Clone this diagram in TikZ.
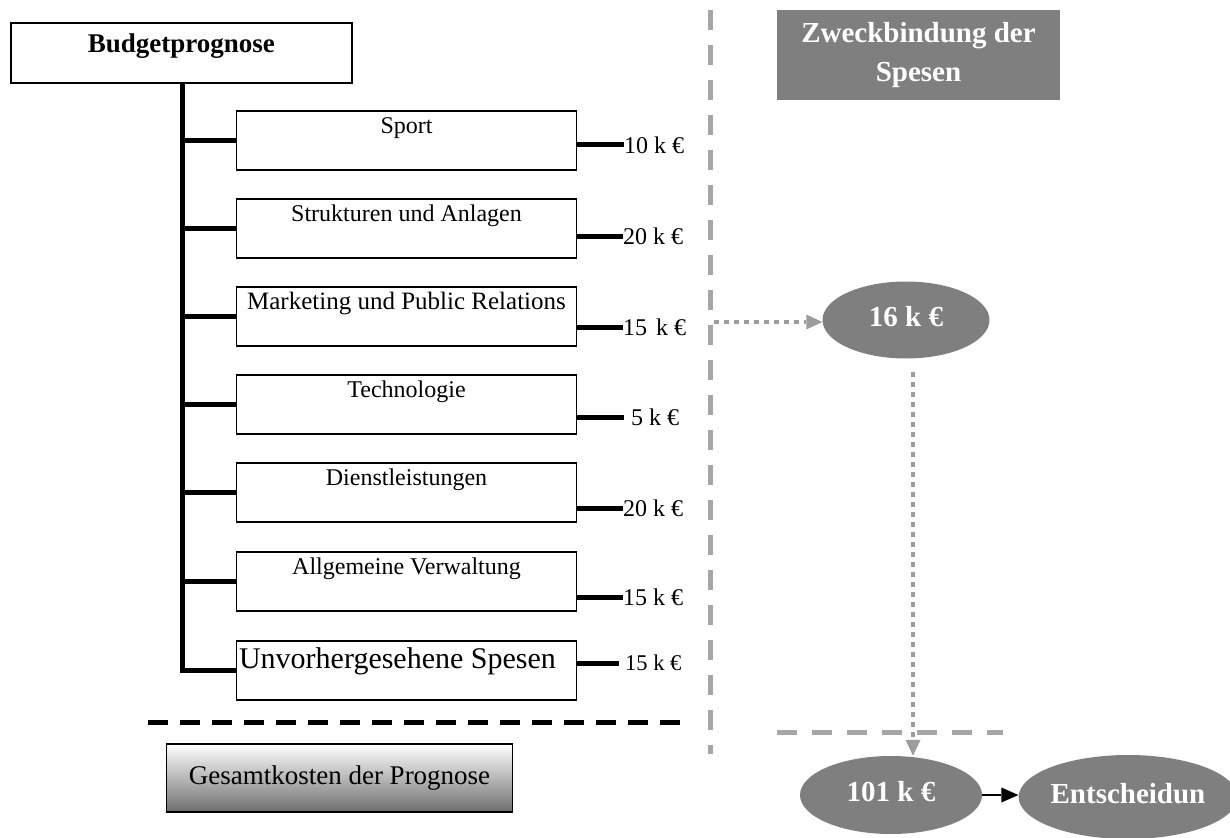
\documentclass[tikz,border=0pt]{standalone}
\usepackage{fontspec}
\setmainfont{Liberation Serif}
\usetikzlibrary{arrows.meta,shapes.geometric}
\definecolor{boxgray}{HTML}{7F7F7F}
\definecolor{linegray}{HTML}{A6A6A6}
\definecolor{dotgray}{HTML}{9C9C9C}
\definecolor{shadegray}{HTML}{6E6E6E}

\begin{document}
\begin{tikzpicture}[x=1pt,y=-1pt,
  itembox/.style={draw, line width=1.4pt, minimum width=340pt, minimum height=59pt,
    inner sep=0pt, outer sep=0pt, anchor=north west},
  itemtext/.style={font=\fontsize{24}{28}\selectfont, anchor=base, inner sep=0pt},
  amount/.style={font=\fontsize{24}{28}\selectfont, anchor=west, inner sep=0pt},
  thickline/.style={line width=5pt},
  gdash/.style={draw=linegray, line width=5pt, dash pattern=on 20pt off 15pt},
  kdash/.style={draw=black, line width=5pt, dash pattern=on 20pt off 12pt},
  gdot/.style={draw=dotgray, line width=4.5pt, dash pattern=on 4.5pt off 5.5pt,
    -{Triangle[length=16pt,width=15pt,line width=0pt]}},
  blob/.style={ellipse, fill=boxgray, text=white, inner sep=0pt,
    font=\bfseries\fontsize{29}{34}\selectfont, text height=20pt, text depth=8pt},
]
\useasboundingbox (0,0) rectangle (1230,837);
\clip (0,0) rectangle (1230,837);

% ---- head box
\node[draw, line width=1.6pt, minimum width=341pt, minimum height=60pt, inner sep=0pt,
  anchor=north west] (bud) at (10,22) {};
\node[font=\bfseries\fontsize{27}{32}\selectfont, anchor=base, inner sep=0pt,
  yshift=-30.5pt] (budt) at (bud.north) {Budgetprognose};

% ---- cost items
\node[itembox] (b1) at (236.5,111) {};
\node[itembox] (b2) at (236.5,199) {};
\node[itembox] (b3) at (236.5,287) {};
\node[itembox] (b4) at (236.5,375) {};
\node[itembox] (b5) at (236.5,463) {};
\node[itembox] (b6) at (236.5,552) {};
\node[itembox] (b7) at (236.5,641) {};

\node[itemtext, yshift=-23pt] (t1) at (b1.north) {Sport};
\node[itemtext, yshift=-22pt] (t2) at (b2.north) {Strukturen und Anlagen};
\node[itemtext, font=\fontsize{25}{29}\selectfont, yshift=-22.5pt] (t3) at (b3.north)
  {Marketing und Public Relations};
\node[itemtext, yshift=-22pt] (t4) at (b4.north) {Technologie};
\node[itemtext, yshift=-22pt] (t5) at (b5.north) {Dienstleistungen};
\node[itemtext, yshift=-22pt] (t6) at (b6.north) {Allgemeine Verwaltung};
\node[itemtext, font=\fontsize{30}{34}\selectfont, yshift=-27pt, xshift=-9pt] (t7)
  at (b7.north) {Unvorhergesehene Spesen};

% ---- trunk and branches
\coordinate (tt) at (182,82);
\draw[thickline, line join=miter] (tt) -- (tt |- b7.west) -- (b7.west);
\foreach \b in {b1,b2,b3,b4,b5,b6}
  \draw[thickline] (tt |- \b.west) -- (\b.west);

% ---- amounts
\node[amount] (v1) at (624,145) {10 k €};
\node[amount] (v2) at (623,236) {20 k €};
\node[amount] (v3) at (623,327) {15\kern3pt\ k €};
\node[amount] (v4) at (631,417) {5 k €};
\node[amount] (v5) at (623,508) {20 k €};
\node[amount] (v6) at (623,597) {15 k €};
\node[amount, font=\fontsize{22.5}{26}\selectfont] (v7) at (625,663) {15 k €};

\draw[thickline] (b1.east |- v1.west) -- (v1.west);
\draw[thickline] (b2.east |- v2.west) -- (v2.west);
\draw[thickline] (b3.east |- v3.west) -- (v3.west);
\draw[thickline] (b4.east |- v4.west) -- ++(47,0);
\draw[thickline] (b5.east |- v5.west) -- (v5.west);
\draw[thickline] (b6.east |- v6.west) -- (v6.west);
\draw[thickline] (b7.east |- v7.west) -- ++(42,0);

% ---- separators
\coordinate (vs) at (710,10);
\coordinate (ve) at (710,754);
\draw[gdash] (vs) -- (ve);
\coordinate (ks) at (148,722);
\coordinate (ke) at (688,722);
\draw[kdash] (ks) -- (ke);
\coordinate (hs) at (777,732);
\coordinate (he) at (1003,732);
\draw[gdash] (hs) -- (he);

% ---- total
\node[draw, line width=1.4pt, top color=white, bottom color=shadegray,
  minimum width=346pt, minimum height=68pt, inner sep=0pt,
  font=\fontsize{27}{32}\selectfont] (total) at (339.5,778) {Gesamtkosten der Prognose};

% ---- right column
\node[fill=boxgray, text=white, minimum width=283pt, minimum height=90pt, inner sep=0pt,
  align=center, font=\bfseries\fontsize{29}{39}\selectfont] (zw) at (918.5,55)
  {Zweckbindung der\\Spesen};

\node[blob, minimum width=167pt, minimum height=77pt] (e16) at (906,320) {16 k €};
\node[blob, minimum width=182pt, minimum height=78pt] (e101) at (891,795) {101 k €};
\node[blob, minimum width=202pt, minimum height=84pt] (dec) at (1128,797) {Entscheidun};

\coordinate (d0) at (714,322);
\draw[gdot] (d0) -- (d0 -| e16.west);
\coordinate (d1) at (913,372);
\draw[gdot] (d1) -- (d1 |- e101.north);

\draw[line width=1.5pt, -{Triangle[length=17pt,width=15pt,line width=0pt]}]
  (e101.east) -- (e101.east -| dec.west);
\end{tikzpicture}
\end{document}
